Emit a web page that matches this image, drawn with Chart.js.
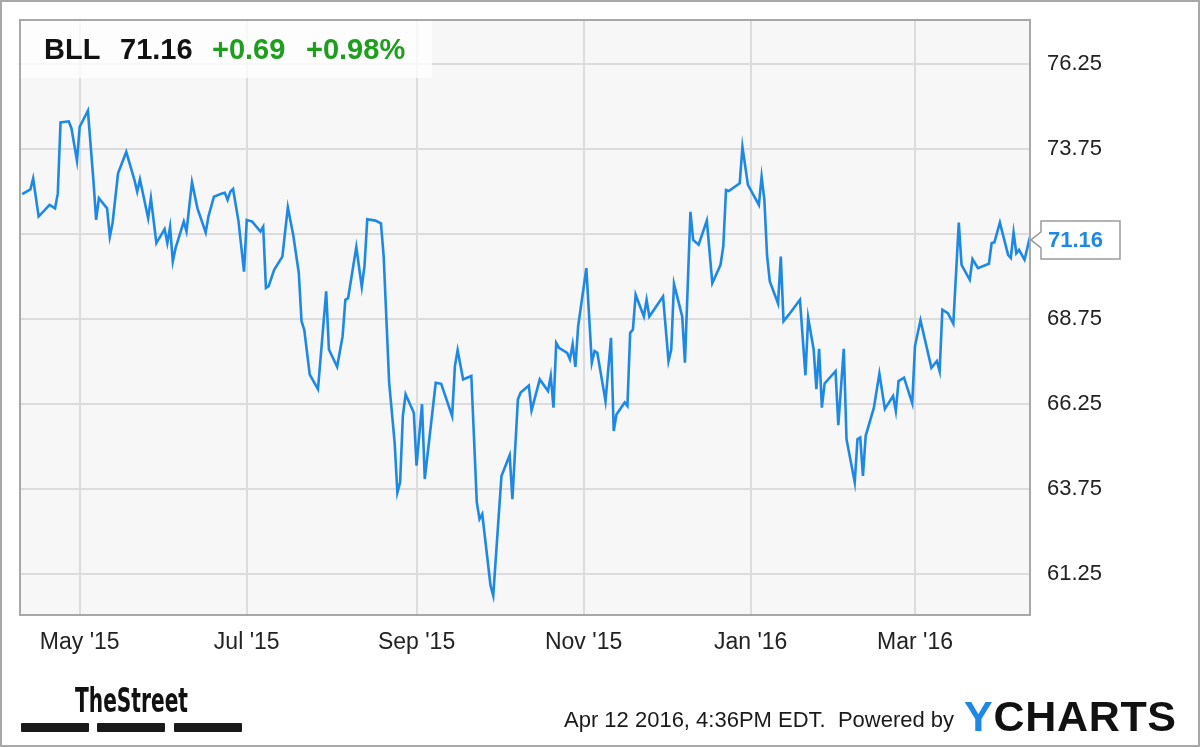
<!DOCTYPE html>
<html>
<head>
<meta charset="utf-8">
<script src="https://cdn.jsdelivr.net/npm/chart.js@4.4.1/dist/chart.umd.min.js"></script>
<style>
html,body{margin:0;padding:0;background:#fff;}
#wrap{position:relative;width:1200px;height:747px;overflow:hidden;font-family:"Liberation Sans",Arial,sans-serif;background:#fff;}
#c{position:absolute;left:0;top:0;}
#frame{position:absolute;left:0;top:0;width:1200px;height:747px;box-sizing:border-box;border:2px solid #a8a8a8;pointer-events:none;}
#hdr{position:absolute;left:21px;top:21px;width:411px;height:57px;background:rgba(255,255,255,0.78);}
.h{position:absolute;top:35px;font-weight:bold;font-size:29px;line-height:29px;white-space:nowrap;}
.blk{color:#111;}
.grn{color:#1d9e1d;}
#last{position:absolute;left:1048px;font-weight:bold;font-size:22px;line-height:22px;color:#1e88e5;white-space:nowrap;}
#foot{position:absolute;left:564px;top:709px;font-size:22px;line-height:22px;color:#1a1a1a;white-space:nowrap;}
#ych{position:absolute;left:964px;top:695px;font-size:43px;line-height:43px;font-weight:bold;color:#111;white-space:nowrap;letter-spacing:0.7px;}
#ych span{color:#1e88e5;}
#ts{position:absolute;left:75px;top:683px;font-family:"Liberation Sans Narrow","DejaVu Sans Condensed",sans-serif;font-weight:bold;font-size:34px;line-height:34px;color:#111;white-space:nowrap;transform-origin:0 0;}
.bar{position:absolute;top:723px;height:9px;background:#1a1a1a;border-radius:1px;}
</style>
</head>
<body>
<div id="wrap">
  <canvas id="c" width="1200" height="747"></canvas>
  <div id="hdr"></div>
  <div class="h blk" style="left:44px">BLL</div>
  <div class="h blk" style="left:120px">71.16</div>
  <div class="h grn" style="left:212px">+0.69</div>
  <div class="h grn" style="left:306px">+0.98%</div>
  <div id="last">71.16</div>
  <div id="ts">TheStreet</div>
  <div class="bar" style="left:21px;width:68px"></div>
  <div class="bar" style="left:97px;width:68px"></div>
  <div class="bar" style="left:174px;width:68px"></div>
  <div id="foot">Apr 12 2016, 4:36PM EDT.&nbsp; Powered by</div>
  <div id="ych"><span>Y</span>CHARTS</div>
  <div id="frame"></div>
</div>
<script>
// Days counted from 1 May 2015 (negative = April 2015)
const dayOffsets = [
  -21,-18,-17,-15,-11,-9,-8,-7,-4,-3,-1,0,3,5,6,7,10,11,12,14,17,20,21,22,25,26,
  28,31,32,33,34,35,38,39,41,43,46,47,49,52,53,54,55,56,58,60,61,63,66,67,68,69,71,74,76,
  78,80,81,82,84,87,90,91,94,96,97,98,101,103,104,105,108,110,111,113,115,116,117,118,119,
  122,123,125,126,130,132,136,137,138,140,143,145,146,147,150,151,154,157,158,160,161,164,
  165,168,171,172,173,174,175,178,179,180,181,182,185,187,188,189,192,194,195,196,199,200,
  201,202,203,206,207,208,213,215,216,217,220,221,223,224,226,229,231,234,235,236,237,241,
  242,244,248,249,250,251,252,255,256,257,259,263,265,266,268,269,270,271,272,276,277,279,
  280,283,284,285,286,287,290,292,294,297,298,299,301,304,305,307,311,313,314,315,317,319,
  321,322,325,326,328,332,333,334,336,339,340,341,342,343,345,347
];
const prices = [
  72.42,72.56,72.88,71.76,72.10,72.00,72.44,74.53,74.56,74.35,73.40,74.40,74.87,72.83,71.66,72.30,72.00,71.17,71.57,73.03,73.66,72.83,72.49,72.85,71.71,72.30,
  70.98,71.39,70.98,71.45,70.44,70.83,71.61,71.32,72.77,72.00,71.29,71.76,72.34,72.44,72.46,72.25,72.49,72.57,71.61,70.14,71.66,71.61,71.32,71.46,69.66,69.71,70.19,70.58,72.03,
  71.20,70.10,68.68,68.43,67.11,66.68,69.56,67.85,67.34,68.24,69.31,69.36,70.86,69.69,70.31,71.68,71.64,71.56,70.58,66.87,65.11,63.64,63.94,65.89,66.53,
  65.99,64.43,66.24,64.04,66.87,66.84,65.89,67.36,67.83,66.97,67.07,63.35,62.86,63.01,60.91,60.61,64.13,64.74,63.45,66.38,66.58,66.79,
  66.06,66.97,66.63,67.07,66.14,68.04,67.90,67.75,67.56,68.00,67.34,68.53,70.24,67.46,67.80,67.75,66.33,68.19,65.45,65.94,66.29,66.19,
  68.34,68.43,69.46,68.82,69.31,68.82,69.41,67.51,67.85,69.78,68.82,67.46,71.90,71.07,70.93,71.64,69.80,70.34,70.88,72.54,72.51,72.74,
  73.81,72.69,72.10,72.93,72.25,70.60,69.85,69.20,70.58,68.68,68.88,69.31,67.09,68.78,67.85,66.68,67.87,66.14,66.85,67.21,65.62,67.87,
  65.21,63.94,65.21,65.26,64.13,65.31,66.14,67.14,66.10,66.48,66.04,66.92,67.02,66.27,67.95,68.71,67.31,67.51,67.21,69.02,68.92,68.61,
  71.58,70.34,69.90,70.51,70.24,70.37,70.98,71.00,71.58,70.63,70.54,71.29,70.68,70.78,70.49,71.16
];
const xTickDays = [0, 61, 123, 184, 245, 305];
const xTickLabels = ["May '15", "Jul '15", "Sep '15", "Nov '15", "Jan '16", "Mar '16"];
const yTickValues = [61.25, 63.75, 66.25, 68.75, 71.25, 73.75, 76.25];
const yTickLabels = ["61.25", "63.75", "66.25", "68.75", "", "73.75", "76.25"];
const lastPrice = prices[prices.length - 1];

const LINE = '#1e88e5';
const GRID = '#dcdcdc';
const FONT = '"Liberation Sans", Arial, sans-serif';

const plotFrame = {
  id: 'plotFrame',
  beforeDraw(chart) {
    const {ctx, chartArea: a} = chart;
    ctx.save();
    ctx.fillStyle = '#f7f7f7';
    ctx.fillRect(a.left, a.top, a.right - a.left, a.bottom - a.top);
    ctx.restore();
  },
  afterDraw(chart) {
    const {ctx, chartArea: a} = chart;
    ctx.save();
    ctx.strokeStyle = '#a8a8a8';
    ctx.lineWidth = 2;
    ctx.strokeRect(a.left, a.top, a.right - a.left, a.bottom - a.top);
    const yc = chart.scales.y.getPixelForValue(lastPrice) + 3;
    const tip = a.right + 1, bl = a.right + 11, br = 1120, h = 19;
    ctx.beginPath();
    ctx.moveTo(tip, yc);
    ctx.lineTo(bl, yc - 8);
    ctx.lineTo(bl, yc - h);
    ctx.lineTo(br, yc - h);
    ctx.lineTo(br, yc + h);
    ctx.lineTo(bl, yc + h);
    ctx.lineTo(bl, yc + 8);
    ctx.closePath();
    ctx.fillStyle = '#ffffff';
    ctx.fill();
    ctx.lineWidth = 1.5;
    ctx.strokeStyle = '#9a9a9a';
    ctx.stroke();
    ctx.restore();
    document.getElementById('last').style.top = (yc - 11) + 'px';
  }
};

const chart = new Chart(document.getElementById('c'), {
  type: 'line',
  data: {
    datasets: [{
      data: dayOffsets.map((d, i) => ({x: d, y: prices[i]})),
      borderColor: LINE,
      borderWidth: 2.6,
      pointRadius: 0,
      tension: 0,
      fill: false
    }]
  },
  options: {
    responsive: false,
    animation: false,
    events: [],
    layout: {padding: {left: 20, top: 20, right: 0, bottom: 0}},
    plugins: {legend: {display: false}, tooltip: {enabled: false}},
    scales: {
      x: {
        type: 'linear',
        min: -21.8,
        max: 347,
        afterBuildTicks: s => { s.ticks = xTickDays.map(v => ({value: v})); },
        afterFit: s => { s.height = 132; s.paddingLeft = 0; s.paddingRight = 0; },
        grid: {color: GRID, lineWidth: 2, drawTicks: false},
        border: {display: false},
        ticks: {
          padding: 14, maxRotation: 0, autoSkip: false, color: '#222',
          font: {family: FONT, size: 23},
          callback: v => xTickLabels[xTickDays.indexOf(v)]
        }
      },
      y: {
        position: 'right',
        min: 60.04,
        max: 77.54,
        afterBuildTicks: s => { s.ticks = yTickValues.map(v => ({value: v})); },
        afterFit: s => { s.width = 170; s.paddingTop = 0; s.paddingBottom = 0; },
        grid: {color: GRID, lineWidth: 2, drawTicks: false},
        border: {display: false},
        ticks: {
          padding: 17, color: '#222',
          font: {family: FONT, size: 22},
          callback: v => yTickLabels[yTickValues.indexOf(v)]
        }
      }
    }
  },
  plugins: [plotFrame]
});

const ts = document.getElementById('ts');
const w = ts.getBoundingClientRect().width;
ts.style.transform = 'scaleX(' + (113 / w) + ')';
</script>
</body>
</html>
